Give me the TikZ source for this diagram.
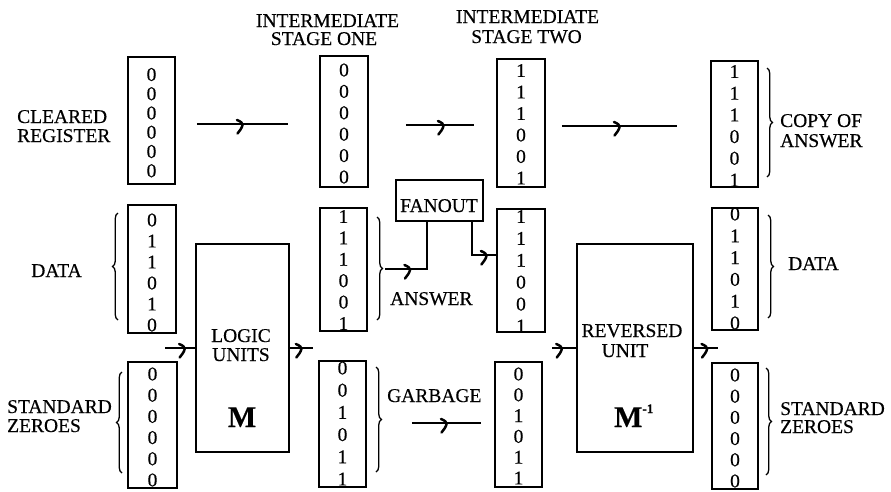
\documentclass[tikz,border=0pt]{standalone}
\usepackage{fontspec}
\setmainfont{Liberation Serif}[FakeBold=0.4]
\usetikzlibrary{decorations.pathreplacing,decorations.markings}
\tikzset{
  regb/.style={draw, line width=1.7pt, inner sep=0pt},
  digit/.style={inner sep=0pt, font=\fontsize{19.5}{19}\selectfont},
  lbl/.style={inner sep=0pt, font=\fontsize{19.5}{19}\selectfont},
  unitbox/.style={draw, line width=1.7pt, inner sep=0pt},
  conn/.style={line width=1.7pt},
  brc/.style={decorate, decoration={brace, amplitude=5.5pt}, line width=1.3pt},
  midarr/.style={postaction={decorate, decoration={markings,
      mark=at position #1 with {\draw[line width=2.5pt, line cap=round]
        (-5.5pt,4pt) .. controls (-1.5pt,2.5pt) and (0.5pt,0.5pt) .. (0pt,-1pt)
        .. controls (-0.5pt,-4pt) and (-3pt,-7pt) .. (-5pt,-9.5pt);}}}},
}
\newcommand\myreg[8]{%
  \node[regb, minimum width={#4-#2}, minimum height={#5-#3}] (#1) at ({(#2+#4)/2},{(#3+#5)/2}) {};
  \foreach \d [count=\i from 0] in {#8} {
    \node[digit] (#1-\i) at ({(#2+#4)/2},{#6+\i*(#7-#6)/5}) {\d};
  }%
}
\begin{document}
\begin{tikzpicture}[x=1pt,y=-1pt]
\useasboundingbox (0,0) rectangle (891,491);

% registers
\myreg{C1T}{128}{57}{175}{184}{74.5}{170.8}{0,0,0,0,0,0}
\myreg{C2T}{320}{56}{368}{187}{70}{177}{0,0,0,0,0,0}
\myreg{C3T}{497}{59}{545}{187}{70.5}{178}{1,1,1,0,0,1}
\myreg{C4T}{711}{61}{758}{187}{71.5}{180}{1,1,1,0,0,1}
\myreg{C1D}{128}{205}{176}{333}{220}{325}{0,1,1,0,1,0}
\myreg{C2D}{320}{208}{367}{331}{216.5}{323.5}{1,1,1,0,0,1}
\myreg{C3D}{497}{209}{545}{332}{216.5}{326}{1,1,1,0,0,1}
\myreg{C4D}{712}{208}{758}{330}{214}{323}{0,1,1,0,1,0}
\myreg{C1Z}{128}{362}{177}{488}{374}{480}{0,0,0,0,0,0}
\myreg{C2Z}{319}{361}{366}{487}{368}{479}{0,0,1,0,1,1}
\myreg{C3Z}{495}{362}{542}{487}{374}{478}{0,0,1,0,1,1}
\myreg{C4Z}{712}{363}{758}{489}{375}{481}{0,0,0,0,0,0}

% units
\node[unitbox, minimum width=93, minimum height=208] (logic) at (242.5,348) {};
\node[unitbox, minimum width=116, minimum height=208] (rev) at (635,348) {};
\node[unitbox, minimum width=87, minimum height=41] (fanout) at (439.5,200.5) {};

% unit texts
\node[lbl, anchor=base] (tfan) at (439,212) {FANOUT};
\node[lbl, anchor=base] (tlog1) at (241,342) {LOGIC};
\node[lbl, anchor=base] (tlog2) at (241,361) {UNITS};
\node[inner sep=0pt, anchor=base, font=\fontsize{30}{30}\selectfont\bfseries] (tM) at (242,427) {M};
\node[lbl, anchor=base] (trev1) at (632,337) {REVERSED};
\node[lbl, anchor=base] (trev2) at (625,357) {UNIT};
\node[inner sep=0pt, anchor=base west, font=\fontsize{30}{30}\selectfont\bfseries] (tMi) at (614,427)
  {M\raisebox{14pt}{\fontsize{13}{13}\selectfont\bfseries -1}};

% labels
\node[lbl, anchor=base] (ti1a) at (327.5,27) {INTERMEDIATE};
\node[lbl, anchor=base] (ti1b) at (324,45) {STAGE ONE};
\node[lbl, anchor=base] (ti2a) at (527.5,23) {INTERMEDIATE};
\node[lbl, anchor=base] (ti2b) at (526.5,43) {STAGE TWO};
\node[lbl, anchor=base west] (tcl1) at (17,123) {CLEARED};
\node[lbl, anchor=base west] (tcl2) at (17,142) {REGISTER};
\node[lbl, anchor=base] (tdl) at (56.5,277) {DATA};
\node[lbl, anchor=base west] (tsz1) at (7,413) {STANDARD};
\node[lbl, anchor=base west] (tsz2) at (7,432) {ZEROES};
\node[lbl, anchor=base west] (tans) at (390,305) {ANSWER};
\node[lbl, anchor=base west] (tgar) at (387,402) {GARBAGE};
\node[lbl, anchor=base west] (tco1) at (780,127) {COPY OF};
\node[lbl, anchor=base west] (tco2) at (780,147) {ANSWER};
\node[lbl, anchor=base west] (tdr) at (788,270) {DATA};
\node[lbl, anchor=base west] (tsr1) at (780,415) {STANDARD};
\node[lbl, anchor=base west] (tsr2) at (780,433) {ZEROES};

% braces
\draw[brc] (118,320) -- (118,213);
\draw[brc] (122,473) -- (122,372);
\draw[brc] (377,217) -- (377,320);
\draw[brc] (376,367) -- (376,472);
\draw[brc] (767,68) -- (767,177);
\draw[brc] (768,215) -- (768,318);
\draw[brc] (766,368) -- (766,475);

% connectors
\draw[conn, midarr=0.5] ([xshift=21pt,yshift=-3.5pt]C1T.east) -- ([xshift=-31pt,yshift=-2.5pt]C2T.west);
\draw[conn, midarr=0.55] ([xshift=37pt,yshift=-3.5pt]C2T.east) -- ([xshift=-22pt,yshift=-2pt]C3T.west);
\draw[conn, midarr=0.5] ([xshift=16pt,yshift=-3pt]C3T.east) -- ([xshift=-33pt,yshift=-2pt]C4T.west);
\draw[conn, midarr=0.65] ([xshift=-30pt]logic.west) -- (logic.west);
\draw[conn, midarr=0.5] (logic.east) -- ([xshift=23pt]logic.east);
\draw[conn, midarr=0.4] ([xshift=-24pt]rev.west) -- (rev.west);
\draw[conn, midarr=0.55] (rev.east) -- ([xshift=24pt]rev.east);
\draw[conn, midarr=0.5] ([xshift=45pt,yshift=1pt]C2Z.east) -- ([xshift=-13pt,yshift=1.5pt]C3Z.west);
\coordinate (anstip) at (385,269);
\draw[conn, midarr=0.28] (anstip) -| ([xshift=-12.5pt]fanout.south);
\draw[conn, midarr=0.83] ([xshift=32.5pt]fanout.south) |- ([yshift=15.5pt]C3D.west);
\end{tikzpicture}
\end{document}
